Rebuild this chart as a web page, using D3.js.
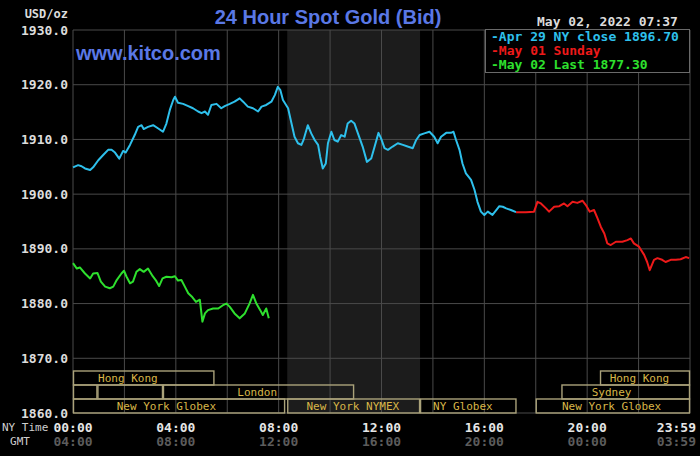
<!DOCTYPE html>
<html><head><meta charset="utf-8">
<script src="https://cdn.jsdelivr.net/npm/d3@7"></script>
<style>html,body{margin:0;padding:0;background:#000;}svg{display:block;}</style>
</head><body>
<svg id="c" width="700" height="456"></svg>
<script>
// ---- data (NY time, minutes since midnight) ----
const blueTimes=[0,12,20,28,40,47,59,71,82,90,98,108,117,123,133,144,152,160,165,175,187,199,210,218,226,234,238,245,257,269,280,292,300,308,315,323,335,346,354,366,377,389,397,408,420,432,440,451,463,471,478,484,490,502,510,517,525,533,538,548,556,564,572,577,583,590,595,603,610,618,626,634,641,649,657,665,676,686,696,704,713,719,727,735,746,758,770,781,793,801,809,820,832,843,851,859,871,882,888,894,902,909,917,929,937,944,952,960,968,979,991,995,1003,1011,1022,1034];
const blueValues=[1904.9,1905.3,1905.1,1904.7,1904.4,1904.9,1906.2,1907.2,1908.1,1908.1,1907.6,1906.5,1907.9,1907.6,1909.0,1910.8,1912.3,1912.6,1911.9,1912.3,1912.6,1912.0,1911.4,1912.9,1915.4,1917.2,1917.8,1916.7,1916.5,1916.1,1915.7,1915.1,1914.8,1915.1,1914.5,1916.3,1916.5,1915.7,1916.1,1916.5,1916.9,1917.5,1916.9,1916.0,1915.7,1915.1,1916.0,1916.3,1916.9,1918.1,1919.6,1919.0,1917.2,1915.7,1912.9,1910.5,1909.3,1909.0,1909.9,1912.6,1911.1,1909.9,1909.0,1906.8,1904.7,1905.6,1909.3,1911.4,1909.9,1909.6,1910.8,1910.5,1912.9,1913.4,1912.9,1911.1,1908.7,1905.9,1906.5,1908.7,1911.2,1910.2,1908.4,1908.1,1908.7,1909.3,1909.0,1908.7,1908.4,1909.9,1910.8,1911.1,1911.4,1910.5,1909.3,1910.5,1911.2,1911.2,1911.4,1909.9,1908.1,1905.6,1903.8,1902.6,1900.8,1898.6,1896.8,1896.2,1896.8,1896.2,1897.4,1897.8,1897.7,1897.4,1897.1,1896.7];
const redTimes=[1034,1057,1076,1084,1092,1104,1111,1123,1135,1146,1154,1166,1177,1189,1197,1206,1216,1224,1232,1240,1247,1255,1267,1282,1294,1302,1309,1321,1333,1340,1346,1356,1364,1375,1383,1395,1407,1418,1430,1438];
const redValues=[1896.7,1896.7,1896.8,1898.6,1898.3,1897.4,1896.8,1897.7,1897.8,1898.3,1897.8,1898.6,1898.4,1898.8,1898.0,1896.8,1897.1,1895.6,1894.0,1892.8,1891.0,1890.7,1891.3,1891.3,1891.6,1891.9,1891.0,1890.4,1888.9,1887.6,1886.1,1888.0,1888.3,1888.0,1887.6,1888.0,1888.0,1888.1,1888.5,1888.3];
const greenTimes=[0,9,16,28,40,47,57,65,75,86,94,102,113,119,125,133,140,148,156,165,175,186,193,201,209,218,230,238,245,253,261,269,277,287,296,302,308,315,327,339,350,358,366,377,389,401,412,420,428,437,443,451,457];
const greenValues=[1887.4,1886.4,1886.6,1885.5,1884.6,1885.5,1885.6,1884.0,1883.1,1882.8,1883.1,1884.3,1885.5,1886.0,1884.9,1883.7,1884.0,1885.8,1886.3,1885.8,1886.4,1885.0,1884.3,1883.2,1884.6,1884.9,1884.8,1885.0,1884.2,1884.3,1883.1,1881.9,1881.3,1880.3,1880.7,1876.7,1878.2,1878.8,1879.1,1879.1,1879.7,1880.0,1879.4,1878.2,1877.3,1878.2,1880.0,1881.6,1880.0,1878.8,1877.9,1879.1,1877.3];
const legendLabels=["Apr 29 NY close 1896.70","May 01 Sunday","May 02 Last 1877.30"];
const yTicks=[1860,1870,1880,1890,1900,1910,1920,1930];
const timeTicks=[0,240,480,720,960,1200,1439];
const nyLabels=["00:00","04:00","08:00","12:00","16:00","20:00","23:59"];
const gmtLabels=["04:00","08:00","12:00","16:00","20:00","00:00","03:59"];
const nymexStart=500, nymexEnd=810;
// sessions: row, start, end, label, label centre (minutes)
const sessionRow=[0,0,1,1,1,1,2,2,2,2];
const sessionStart=[0,1230,0,57,210,1140,0,500,810,1080];
const sessionEnd=[330,1440,57,210,656,1440,495,810,1035,1440];
const sessionLabel=["Hong Kong","Hong Kong","","","London","Sydney","New York Globex","New York NYMEX","NY Globex","New York Globex"];
const sessionLabelAt=[128,1322,0,0,430,1257,218,653,910,1257];

const svg=d3.select("#c");
const x=d3.scaleLinear().domain([0,1440]).range([73,690]);
const y=d3.scaleLinear().domain([1860,1930]).range([413,30]);
const mono="'DejaVu Sans Mono', monospace";
const grid="#4a4a4a";

svg.append("rect").attr("width",700).attr("height",456).attr("fill","#000");
// NYMEX shaded
svg.append("rect").attr("x",x(nymexStart)).attr("y",y(1930)).attr("width",x(nymexEnd)-x(nymexStart)).attr("height",y(1860)-y(1930)).attr("fill","#1c1c1c");
// grid
const vgrid=d3.range(0,1441,120);
svg.append("g").selectAll("line").data(vgrid).join("line")
  .attr("x1",d=>x(d)).attr("x2",d=>x(d)).attr("y1",y(1930)).attr("y2",y(1860))
  .attr("stroke",grid).attr("stroke-width",1);
svg.append("g").selectAll("line").data(yTicks).join("line")
  .attr("x1",x(0)).attr("x2",x(1440)).attr("y1",d=>y(d)).attr("y2",d=>y(d))
  .attr("stroke",grid).attr("stroke-width",1);

// sessions
const rowTop=[371,385,399], rowH=14;
const sess=d3.range(sessionRow.length).map(i=>({r:sessionRow[i],s:sessionStart[i],e:sessionEnd[i],l:sessionLabel[i],at:sessionLabelAt[i]}));
const sg=svg.append("g");
sg.selectAll("rect").data(sess).join("rect")
  .attr("x",d=>x(d.s)+0.5).attr("y",d=>rowTop[d.r]).attr("width",d=>x(d.e)-x(d.s)-1).attr("height",rowH)
  .attr("fill","none").attr("stroke","#aaa27a").attr("stroke-width",1.4);
sg.selectAll("text").data(sess.filter(d=>d.l)).join("text")
  .attr("x",d=>x(d.at)).attr("y",d=>rowTop[d.r]+11).attr("text-anchor","middle")
  .attr("font-family",mono).attr("font-size",11).attr("fill","#d8b648").text(d=>d.l);

// lines
const line=d3.line().x(d=>x(d[0])).y(d=>y(d[1]));
function series(t,v,c){
  svg.append("path").datum(t.map((d,i)=>[d,v[i]])).attr("d",line)
    .attr("fill","none").attr("stroke",c).attr("stroke-width",2).attr("stroke-linejoin","round");
}
series(blueTimes,blueValues,"#2ec0ec");
series(redTimes,redValues,"#ee1a1a");
series(greenTimes,greenValues,"#2ee02e");

// y labels
svg.append("g").selectAll("text").data(yTicks).join("text")
  .attr("x",68).attr("y",d=>y(d)+4.5).attr("text-anchor","end")
  .attr("font-family",mono).attr("font-weight","bold").attr("font-size",13).attr("fill","#dcdcdc")
  .text(d=>d3.format(".1f")(d));
svg.append("text").attr("x",68).attr("y",18).attr("text-anchor","end")
  .attr("font-family",mono).attr("font-weight","bold").attr("font-size",12).attr("fill","#dcdcdc").text("USD/oz");

// x labels
svg.append("g").selectAll("text").data(timeTicks).join("text")
  .attr("x",(d,i)=>i===timeTicks.length-1?696:x(d)).attr("y",432)
  .attr("text-anchor",(d,i)=>i===timeTicks.length-1?"end":"middle")
  .attr("font-family",mono).attr("font-weight","bold").attr("font-size",13).attr("fill","#e6e6e6")
  .text((d,i)=>nyLabels[i]);
svg.append("g").selectAll("text").data(timeTicks).join("text")
  .attr("x",(d,i)=>i===timeTicks.length-1?696:x(d)).attr("y",446)
  .attr("text-anchor",(d,i)=>i===timeTicks.length-1?"end":"middle")
  .attr("font-family",mono).attr("font-weight","bold").attr("font-size",13).attr("fill","#5c5c5c")
  .text((d,i)=>gmtLabels[i]);
svg.append("text").attr("x",2).attr("y",431).attr("font-family",mono).attr("font-size",11).attr("fill","#cfcfcf").text("NY Time");
svg.append("text").attr("x",20).attr("y",445).attr("text-anchor","middle").attr("font-family",mono).attr("font-size",11).attr("fill","#cfcfcf").text("GMT");

// title
svg.append("text").attr("x",328).attr("y",24).attr("text-anchor","middle")
  .attr("font-family","'Liberation Sans', Arial, sans-serif").attr("font-weight","bold").attr("font-size",20)
  .attr("fill","#5a78e6").text("24 Hour Spot Gold (Bid)");
svg.append("text").attr("x",76).attr("y",60)
  .attr("font-family","'Liberation Sans', Arial, sans-serif").attr("font-weight","bold").attr("font-size",20)
  .attr("fill","#5a78e6").text("www.kitco.com");
svg.append("text").attr("x",537).attr("y",26)
  .attr("font-family",mono).attr("font-weight","bold").attr("font-size",13).attr("fill","#dcdcdc").text("May 02, 2022 07:37");

// legend
const lg=svg.append("g");
lg.append("rect").attr("x",485.5).attr("y",29.5).attr("width",204).attr("height",43).attr("fill","#000").attr("stroke","#6a6a6a");
const legColors=["#2ec0ec","#ee1a1a","#2ee02e"];
lg.selectAll("text").data(legendLabels).join("text")
  .attr("x",491).attr("y",(d,i)=>41+i*13.8)
  .attr("font-family",mono).attr("font-weight","bold").attr("font-size",13)
  .attr("fill",(d,i)=>legColors[i]).text(d=>"-"+d);
</script>
</body></html>
